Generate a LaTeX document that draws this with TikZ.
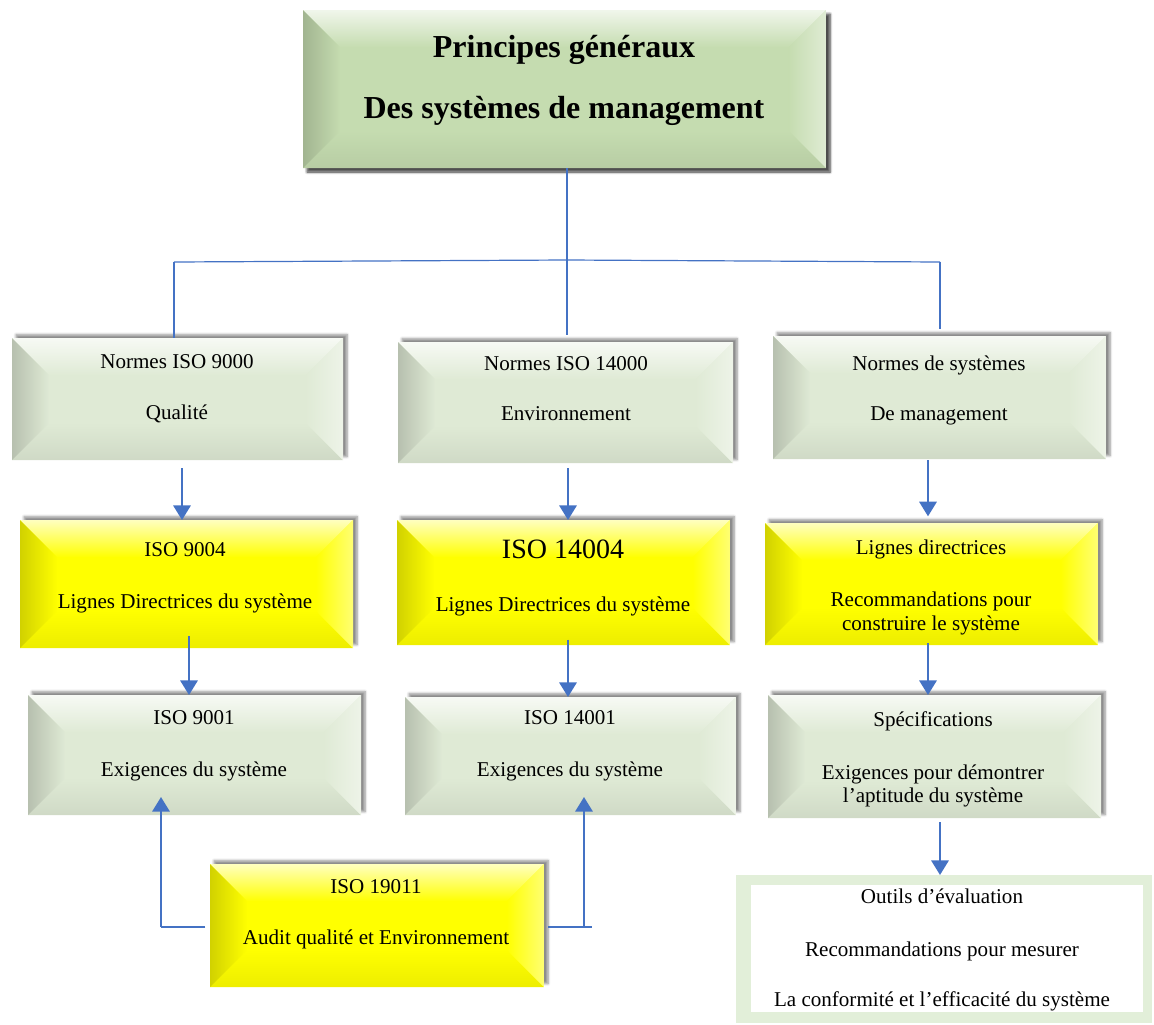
\documentclass[tikz,border=0pt]{standalone}
\usepackage{fontspec}
\setmainfont{Liberation Serif}
\usetikzlibrary{arrows.meta,calc,shadows.blur}

\definecolor{linkblue}{HTML}{4472C4}
\definecolor{titlegreen}{HTML}{C5DCB0}
\definecolor{palegreen}{HTML}{DFEAD5}
\definecolor{boxyellow}{HTML}{FFFF00}
\definecolor{framegreen}{HTML}{E2EFD9}

\tikzset{
  % raised bevel: four shaded trapezoids round a flat face
  bevel/.style={path picture={
    \def\bv{28pt}
    \coordinate (bnw) at (path picture bounding box.north west);
    \coordinate (bne) at (path picture bounding box.north east);
    \coordinate (bsw) at (path picture bounding box.south west);
    \coordinate (bse) at (path picture bounding box.south east);
    \shade[top color=#1!25!white, bottom color=#1]
      (bnw) -- (bne) -- ([shift={(-\bv,-\bv)}]bne) -- ([shift={(\bv,-\bv)}]bnw) -- cycle;
    \shade[top color=#1, bottom color=#1!93!black]
      (bsw) -- (bse) -- ([shift={(-\bv,\bv)}]bse) -- ([shift={(\bv,\bv)}]bsw) -- cycle;
    \shade[left color=#1!82!black, right color=#1]
      (bnw) -- ([shift={(\bv,-\bv)}]bnw) -- ([shift={(\bv,\bv)}]bsw) -- (bsw) -- cycle;
    \shade[left color=#1, right color=#1!55!white]
      (bne) -- (bse) -- ([shift={(-\bv,\bv)}]bse) -- ([shift={(-\bv,-\bv)}]bne) -- cycle;
  }},
  wd/.style={minimum width=#1*0.75pt},
  ht/.style={minimum height=#1*0.75pt},
  box/.style={inner sep=0pt, outer sep=0pt, anchor=north west,
    blur shadow={shadow xshift=3pt, shadow yshift=2.5pt,
                 shadow blur steps=6, shadow opacity=45}},
  greenbox/.style={box, fill=palegreen, bevel=palegreen},
  yellowbox/.style={box, fill=boxyellow, bevel=boxyellow},
  titlebox/.style={box, fill=titlegreen, bevel=titlegreen,
    blur shadow={shadow xshift=3pt, shadow yshift=-3pt,
                 shadow blur steps=6, shadow opacity=45}},
  framebox/.style={inner sep=0pt, outer sep=0pt, anchor=north west,
    fill=framegreen, path picture={
      \fill[white] ([shift={(11.25pt,-7.5pt)}]path picture bounding box.north west)
        rectangle ([shift={(-6.75pt,8.25pt)}]path picture bounding box.south east);}},
  txt/.style={font=\fontsize{15.8}{19}\selectfont, inner sep=0pt, anchor=base},
  bigtxt/.style={font=\fontsize{21}{25}\selectfont, inner sep=0pt, anchor=base},
  titletxt/.style={font=\fontsize{24}{29}\selectfont\bfseries, inner sep=0pt, anchor=base},
  conn/.style={draw=linkblue, line width=0.9pt},
  arr/.style={draw=linkblue, line width=1.8pt,
    -{Triangle[width=13pt, length=11pt]}},
}

\begin{document}
\begin{tikzpicture}[x=0.75pt, y=-0.75pt]
  \useasboundingbox (0,0) rectangle (1154,1025);

  % ---- boxes ----
  \node[titlebox, wd=523, ht=158] (title) at (303,10) {};

  \node[greenbox, wd=331, ht=122] (n1) at (12,338) {};
  \node[greenbox, wd=335, ht=121] (n2) at (398,342) {};
  \node[greenbox, wd=333, ht=123] (n3) at (773,336) {};

  \node[yellowbox, wd=333, ht=128] (y1) at (20,520) {};
  \node[yellowbox, wd=333, ht=125] (y2) at (397,520) {};
  \node[yellowbox, wd=333, ht=122] (y3) at (765,523) {};

  \node[greenbox, wd=333, ht=120] (r1) at (28,695) {};
  \node[greenbox, wd=331, ht=118] (r2) at (405,697) {};
  \node[greenbox, wd=333, ht=123] (r3) at (768,695) {};

  \node[yellowbox, wd=334, ht=123] (audit) at (210,864) {};
  \node[framebox, wd=416, ht=148] (tools) at (736,875) {};

  % ---- texts ----
  \node[titletxt] (ta) at (564,57) {Principes généraux};
  \node[titletxt] (tb) at (564,118) {Des systèmes de management};

  \node[txt] (n1a) at (177,368) {Normes ISO 9000};
  \node[txt] (n1b) at (177,419) {Qualité};
  \node[txt] (n2a) at (566,370) {Normes ISO 14000};
  \node[txt] (n2b) at (566,420) {Environnement};
  \node[txt] (n3a) at (939,370) {Normes de systèmes};
  \node[txt] (n3b) at (939,420) {De management};

  \node[txt] (y1a) at (185,556) {ISO 9004};
  \node[txt] (y1b) at (185,608) {Lignes Directrices du système};
  \node[bigtxt] (y2a) at (563,558) {ISO 14004};
  \node[txt] (y2b) at (563,611) {Lignes Directrices du système};
  \node[txt] (y3a) at (931,554) {Lignes directrices};
  \node[txt] (y3b) at (931,606) {Recommandations pour};
  \node[txt] (y3c) at (931,630) {construire le système};

  \node[txt] (r1a) at (194,724) {ISO 9001};
  \node[txt] (r1b) at (194,776) {Exigences du système};
  \node[txt] (r2a) at (570,724) {ISO 14001};
  \node[txt] (r2b) at (570,776) {Exigences du système};
  \node[txt] (r3a) at (933,726) {Spécifications};
  \node[txt] (r3b) at (933,779) {Exigences pour démontrer};
  \node[txt] (r3c) at (933,802) {l’aptitude du système};

  \node[txt] (aua) at (376,893) {ISO 19011};
  \node[txt] (aub) at (376,944) {Audit qualité et Environnement};

  \node[txt] (toa) at (942,903) {Outils d’évaluation};
  \node[txt] (tob) at (942,956) {Recommandations pour mesurer};
  \node[txt] (toc) at (942,1006) {La conformité et l’efficacité du système};

  % ---- tree from the title to the three families ----
  \coordinate (bus) at (567,260);
  \coordinate (busL) at (174,262);
  \coordinate (busR) at (940,262);
  \draw[conn] (title.south -| bus) -- ([yshift=5pt]n2.north -| bus);
  \draw[conn] (busL) -- (bus) -- (busR);
  \draw[conn] (busL) -- (n1.north -| busL);
  \draw[conn] (busR) -- ([yshift=5pt]n3.north -| busR);

  % ---- downward arrows ----
  \coordinate (ca1) at (182,0);
  \coordinate (ca2) at (189,0);
  \coordinate (cb) at (568,0);
  \coordinate (cc) at (928,0);
  \coordinate (cd) at (940,0);
  \draw[arr, shorten <=6pt] (n1.south -| ca1) -- (y1.north -| ca1);
  \draw[arr, shorten <=4pt] (n2.south -| cb) -- (y2.north -| cb);
  \draw[arr, shorten <=1pt, shorten >=5pt] (n3.south -| cc) -- (y3.north -| cc);
  \draw[arr, shorten <=-9pt] (y1.south -| ca2) -- (r1.north -| ca2);
  \draw[arr, shorten <=-4pt] (y2.south -| cb) -- (r2.north -| cb);
  \draw[arr, shorten <=-1.5pt] (y3.south -| cc) -- (r3.north -| cc);
  \draw[arr, shorten <=3pt] (r3.south -| cd) -- (tools.north -| cd);

  % ---- audit feeds both requirement standards ----
  \coordinate (tipL) at (161,797);
  \coordinate (tipR) at (584,797);
  \coordinate (hookR) at (592,927);
  \draw[conn] ([xshift=-3.5pt]audit.west |- hookR) -- (tipL |- hookR);
  \draw[arr] (tipL |- hookR) -- (tipL);
  \draw[conn] ([xshift=3pt]audit.east |- hookR) -- (hookR);
  \draw[arr] (tipR |- hookR) -- (tipR);
\end{tikzpicture}
\end{document}
